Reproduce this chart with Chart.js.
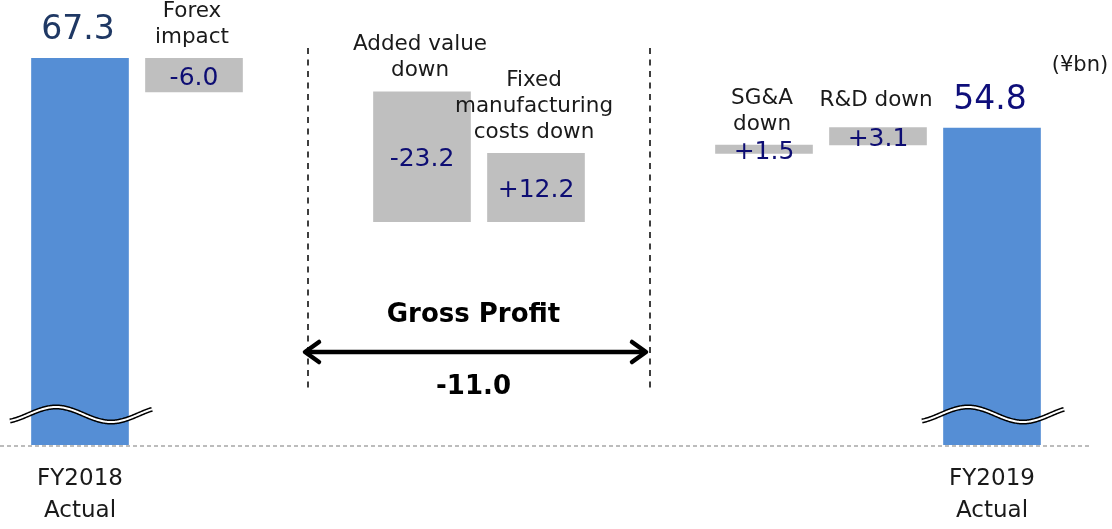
<!DOCTYPE html>
<html>
<head>
<meta charset="utf-8">
<script src="https://cdn.jsdelivr.net/npm/chart.js@4/dist/chart.umd.min.js"></script>
<style>
  html, body { margin: 0; padding: 0; background: #ffffff; }
  #grafica { display: block; }
</style>
</head>
<body>
<canvas id="grafica" width="1112" height="529"></canvas>
<script>
// Datos (¥bn)
const categorias = [
    ['FY2018', 'Actual'],
    ['Forex', 'impact'],
    [],
    ['Added value', 'down'],
    ['Fixed', 'manufacturing', 'costs down'],
    [],
    ['SG&A', 'down'],
    ['R&D down'],
    ['FY2019', 'Actual']
];
const tipos = ['total', 'delta', null, 'delta', 'delta', null, 'delta', 'delta', 'total'];
const cambios = [67.3, -6.0, null, -23.2, 12.2, null, 1.5, 3.1, 54.8];
const etiquetasValor = ['67.3', '-6.0', '', '-23.2', '+12.2', '', '+1.5', '+3.1', '54.8'];
const tituloSeccion = 'Gross Profit';
const totalSeccion = '-11.0';
const unidad = '(¥bn)';

const FUENTE = '"DejaVu Sans", Verdana, sans-serif';
const Y_MIN = -1.8;   // eje cortado
const Y_MAX = 77.7;

// Barras flotantes de la cascada
let acumulado = 0;
const barras = cambios.map((v, i) => {
    if (tipos[i] === 'total') {
        acumulado = v;
        return [Y_MIN, v];
    }
    if (tipos[i] === 'delta') {
        const inicio = acumulado;
        acumulado += v;
        return [inicio, acumulado];
    }
    return null;
});
const colores = tipos.map(t => t === 'total' ? '#558ED5' : '#BFBFBF');

function texto(ctx, str, x, y, font, color) {
    ctx.font = font;
    ctx.fillStyle = color;
    ctx.textAlign = 'center';
    ctx.textBaseline = 'middle';
    ctx.fillText(str, x, y);
}

const decoraciones = {
    id: 'decoraciones',
    beforeDatasetsDraw(chart) {
        const { ctx, chartArea } = chart;
        // Línea base punteada
        ctx.save();
        ctx.strokeStyle = '#A6A6A6';
        ctx.lineWidth = 1.5;
        ctx.setLineDash([4, 3]);
        ctx.beginPath();
        ctx.moveTo(0, chartArea.bottom + 1);
        ctx.lineTo(1090, chartArea.bottom + 1);
        ctx.stroke();
        ctx.restore();
    },
    afterDatasetsDraw(chart) {
        const { ctx, chartArea } = chart;
        const xs = chart.scales.x;
        const meta = chart.getDatasetMeta(0);
        ctx.save();

        meta.data.forEach((bar, i) => {
            if (!tipos[i]) return;
            const cx = bar.x;
            const top = Math.min(bar.y, bar.base);
            const bottom = Math.max(bar.y, bar.base);

            if (tipos[i] === 'total') {
                // Corte del eje (onda doble)
                const yc = chartArea.bottom - 30.5;
                const onda = () => {
                    ctx.beginPath();
                    for (let x = cx - 70; x <= cx + 72; x += 1) {
                        const y = yc - 7.5 * Math.cos(Math.PI * (x - cx + 24) / 55);
                        if (x === cx - 70) ctx.moveTo(x, y); else ctx.lineTo(x, y);
                    }
                    ctx.stroke();
                };
                ctx.strokeStyle = '#000000';
                ctx.lineWidth = 5;
                onda();
                ctx.strokeStyle = '#ffffff';
                ctx.lineWidth = 2;
                onda();

                texto(ctx, etiquetasValor[i], cx - 2, top - 28, '33px ' + FUENTE,
                    i === 0 ? '#1F3864' : '#0E0E7A');
            } else {
                const yv = Math.max((top + bottom) / 2 + 3, top + 8);
                texto(ctx, etiquetasValor[i], cx, yv, '25px ' + FUENTE, '#0D0D73');

                const lineas = categorias[i];
                const sube = lineas.length === 1 ? 27 : 21;
                lineas.forEach((l, k) => {
                    const y = top - sube - (lineas.length - 1 - k) * 26;
                    texto(ctx, l, cx - 2, y, '21.5px ' + FUENTE, '#1A1A1A');
                });
            }
        });

        // Separadores de la sección de utilidad bruta
        const seps = [];
        tipos.forEach((t, i) => { if (t === null) seps.push(xs.getPixelForValue(i)); });
        ctx.strokeStyle = '#000000';
        ctx.lineWidth = 1.5;
        ctx.setLineDash([6, 5.5]);
        seps.forEach(x => {
            ctx.beginPath();
            ctx.moveTo(x, 48);
            ctx.lineTo(x, 391);
            ctx.stroke();
        });
        ctx.setLineDash([]);

        if (seps.length === 2) {
            const x1 = seps[0] - 3, x2 = seps[1] - 4, y = 352;
            ctx.lineWidth = 4.5;
            ctx.lineCap = 'round';
            ctx.lineJoin = 'round';
            ctx.beginPath();
            ctx.moveTo(x1 + 2, y);
            ctx.lineTo(x2 - 2, y);
            ctx.stroke();
            ctx.beginPath();
            ctx.moveTo(x1 + 14, y - 10);
            ctx.lineTo(x1, y);
            ctx.lineTo(x1 + 14, y + 10);
            ctx.moveTo(x2 - 14, y - 10);
            ctx.lineTo(x2, y);
            ctx.lineTo(x2 - 14, y + 10);
            ctx.stroke();

            const mid = (x1 + x2) / 2;
            texto(ctx, tituloSeccion, mid - 2, 315, 'bold 26px ' + FUENTE, '#000000');
            texto(ctx, totalSeccion, mid - 2, 387, 'bold 26px ' + FUENTE, '#000000');
        }

        texto(ctx, unidad, 1080, 66, '21px ' + FUENTE, '#1A1A1A');
        ctx.restore();
    }
};

const ctx = document.getElementById('grafica').getContext('2d');
const chart = new Chart(ctx, {
    type: 'bar',
    data: {
        labels: categorias,
        datasets: [{
            data: barras,
            backgroundColor: colores,
            borderWidth: 0,
            barThickness: 97
        }]
    },
    options: {
        responsive: false,
        animation: false,
        devicePixelRatio: 1,
        layout: { padding: { left: 23, right: 63, top: 0, bottom: 0 } },
        plugins: {
            legend: { display: false },
            tooltip: { enabled: false }
        },
        scales: {
            x: {
                grid: { display: false, drawTicks: false },
                border: { display: false },
                afterFit: (scale) => { scale.height = 84; },
                ticks: {
                    autoSkip: false,
                    maxRotation: 0,
                    padding: 19,
                    color: '#1A1A1A',
                    font: { family: FUENTE, size: 23, lineHeight: 1.35 },
                    callback: (v, i) => tipos[i] === 'total' ? categorias[i] : ''
                }
            },
            y: {
                display: false,
                min: Y_MIN,
                max: Y_MAX
            }
        }
    },
    plugins: [decoraciones]
});
</script>
</body>
</html>
